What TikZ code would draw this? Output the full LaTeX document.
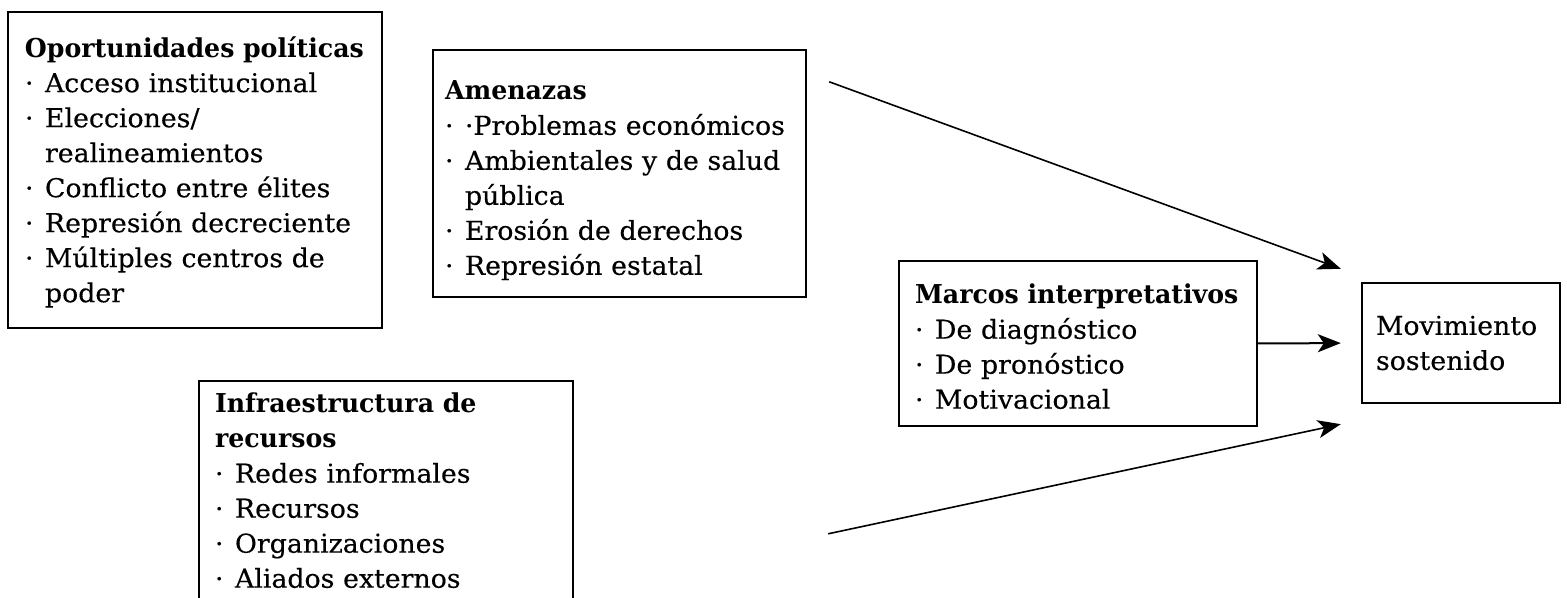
\documentclass[tikz,border=0pt]{standalone}
\usepackage{fontspec}
\setmainfont{DejaVu Serif}[UprightFeatures={FakeStretch=1.03,FakeBold=0.3}, BoldFeatures={FakeStretch=0.97}]
\usetikzlibrary{arrows.meta}
\hyphenpenalty=10000
\newcommand\itm[1]{\makebox[10pt][l]{·}#1}
\newcommand\cnt[1]{\hspace*{10pt}#1}
\tikzset{
  box/.style={draw=black, line width=1.2pt, rectangle, inner sep=0pt},
  txt/.style={align=left, inner xsep=0pt, inner ysep=0pt,
    font=\fontsize{13}{17.5}\selectfont},
  arr/.style={line width=0.8pt, -{Stealth[length=11.5pt,width=9pt,inset=3pt]}},
}
\begin{document}
\begin{tikzpicture}[x=0.5pt,y=-0.5pt]
\useasboundingbox (0,0) rectangle (1567,598);
\clip (0,0) rectangle (1567,598);
\fill[white] (0,0) rectangle (1567,598);

\node[box, minimum width=187pt, minimum height=158pt] (opp) at (195,170) {};
\node[txt, text width=170pt] (oppt) at ([yshift=-1pt]opp.center)
{\textbf{Oportunidades políticas}\\
\itm{Acceso institucional}\\
\itm{Elecciones/}\\
\cnt{realineamientos}\\
\itm{Conflicto entre élites}\\
\itm{Represión decreciente}\\
\itm{Múltiples centros de}\\
\cnt{poder}};

\node[box, minimum width=186.5pt, minimum height=123.5pt] (amen) at (619.5,173.5) {};
\node[txt, text width=174.5pt] (ament) at ([yshift=-3.5pt]amen.center)
{\textbf{Amenazas}\\
\itm{·Problemas económicos}\\
\itm{Ambientales y de salud}\\
\cnt{pública}\\
\itm{Erosión de derechos}\\
\itm{Represión estatal}};

\node[box, minimum width=179pt, minimum height=82.5pt] (marcos) at (1078,343.5) {};
\node[txt, text width=163pt] (marcost) at ([yshift=-1.5pt]marcos.center)
{\textbf{Marcos interpretativos}\\
\itm{De diagnóstico}\\
\itm{De pronóstico}\\
\itm{Motivacional}};

\node[box, minimum width=99pt, minimum height=60pt] (mov) at (1461,343) {};
\node[txt, text width=85pt] (movt) at (mov.center)
{Movimiento\\ sostenido};

\node[box, minimum width=187pt, minimum height=115.5pt] (infra) at (386,496.5) {};
\node[txt, text width=171pt] (infrat) at ([yshift=3pt]infra.center)
{\textbf{Infraestructura de}\\
\textbf{recursos}\\
\itm{Redes informales}\\
\itm{Recursos}\\
\itm{Organizaciones}\\
\itm{Aliados externos}};

\coordinate (a1) at ([xshift=11pt,yshift=-16.5pt]amen.north east);
\coordinate (a2) at ([xshift=-10pt,yshift=6.5pt]mov.north west);
\coordinate (b1) at ([xshift=127pt,yshift=-77pt]infra.north east);
\coordinate (b2) at ([xshift=-10pt,yshift=-10pt]mov.south west);

\draw[arr] (a1) -- (a2);
\draw[arr, line width=1pt, shorten >=10pt] (marcos.east) -- (mov.west);
\draw[arr] (b1) -- (b2);
\end{tikzpicture}
\end{document}
